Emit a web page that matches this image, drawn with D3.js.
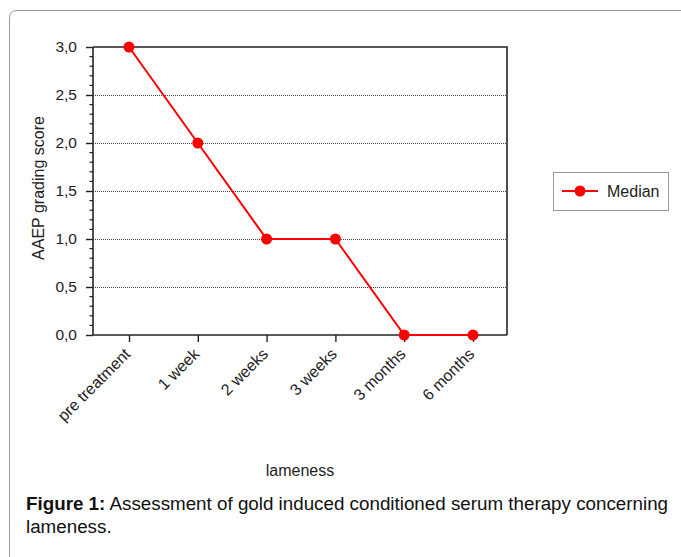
<!DOCTYPE html>
<html><head><meta charset="utf-8">
<script src="https://cdn.jsdelivr.net/npm/d3@7"></script>
<style>body{margin:0;background:#fff}svg{display:block}</style>
</head><body><svg id="c" width="681" height="557"></svg>
<script>
const categories = ["pre treatment","1 week","2 weeks","3 weeks","3 months","6 months"];
const medianValues = [3,2,1,1,0,0];
const yTicks = [0,0.5,1,1.5,2,2.5,3];
const seriesName = "Median";

const svg = d3.select("#c");
const font = "Arial, 'Liberation Sans', sans-serif";
// outer frame
svg.append("path").attr("d","M9.5,560 L9.5,18 Q9.5,10.5 17,10.5 L690,10.5")
  .attr("fill","none").attr("stroke","#9a9a9a").attr("stroke-width",1);

const L=93, R=507, T=47, B=335;
const x = d3.scalePoint().domain(categories).range([L+36, R-34]);
const y = d3.scaleLinear().domain([0,3]).range([B,T]);

// grid
svg.append("g").selectAll("line").data(yTicks.filter(v=>v>0&&v<3)).join("line")
  .attr("x1",L).attr("x2",R).attr("y1",d=>y(d)+0.5).attr("y2",d=>y(d)+0.5)
  .attr("stroke","#444").attr("stroke-width",1).attr("stroke-dasharray","1,1");

// box top/right
svg.append("path").attr("d",`M${L},${T} L${R},${T} L${R},${B}`).attr("fill","none").attr("stroke","#222").attr("stroke-width",1.6);

// y axis
const ya = d3.axisLeft(y).tickValues(yTicks).tickSize(7).tickPadding(9).tickFormat(d=>d3.format(".1f")(d).replace(".",","));
const gy = svg.append("g").attr("transform",`translate(${L},0)`).call(ya);
gy.select(".domain").attr("stroke","#222").attr("stroke-width",1.6).attr("d",`M-0,${B}V${T}`);
gy.selectAll(".tick line").attr("stroke","#222").attr("stroke-width",1.4);
gy.selectAll("text").attr("font-family",font).attr("font-size",15.5).attr("fill","#222");
const minor = d3.range(0,3.0001,0.1).filter(v=>Math.abs(v*2-Math.round(v*2))>1e-6);
gy.append("g").selectAll("line").data(minor).join("line")
  .attr("x1",-3.5).attr("x2",0).attr("y1",d=>y(d)).attr("y2",d=>y(d)).attr("stroke","#222").attr("stroke-width",1.2);

// x axis
const xa = d3.axisBottom(x).tickSize(7).tickPadding(4);
const gx = svg.append("g").attr("transform",`translate(0,${B})`).call(xa);
gx.select(".domain").attr("stroke","#222").attr("stroke-width",1.6).attr("d",`M${L},0H${R}`);
gx.selectAll(".tick line").attr("stroke","#222").attr("stroke-width",1.4);
gx.selectAll("text").attr("font-family",font).attr("font-size",16).attr("fill","#222")
  .attr("text-anchor","end").attr("x",0).attr("y",0).attr("dy","0").attr("transform","translate(2,20) rotate(-45)");

// line
svg.append("path").datum(medianValues).attr("fill","none").attr("stroke","#ff0000").attr("stroke-width",2)
  .attr("d",d3.line().x((d,i)=>x(categories[i])).y(d=>y(d)));
svg.append("g").selectAll("circle").data(medianValues).join("circle")
  .attr("cx",(d,i)=>x(categories[i])).attr("cy",d=>y(d)).attr("r",5.5).attr("fill","#ff0000");

// axis titles
svg.append("text").attr("transform","translate(43.5,188) rotate(-90)").attr("text-anchor","middle")
  .attr("font-family",font).attr("font-size",16).attr("fill","#222").text("AAEP grading score");
svg.append("text").attr("x",300).attr("y",476).attr("text-anchor","middle")
  .attr("font-family",font).attr("font-size",16).attr("fill","#222").text("lameness");

// legend
const lg = svg.append("g");
lg.append("rect").attr("x",553.5).attr("y",172.5).attr("width",115).attr("height",38).attr("fill","#fff").attr("stroke","#999").attr("stroke-width",1);
lg.append("line").attr("x1",562).attr("x2",598).attr("y1",191).attr("y2",191).attr("stroke","#ff0000").attr("stroke-width",2);
lg.append("circle").attr("cx",580).attr("cy",191).attr("r",5.5).attr("fill","#ff0000");
lg.append("text").attr("x",607).attr("y",197).attr("font-family",font).attr("font-size",16).attr("fill","#222").text(seriesName);

// caption
const cap = svg.append("text").attr("x",26).attr("y",510).attr("font-family",font).attr("font-size",18.8).attr("fill","#111");
cap.append("tspan").attr("font-weight","bold").text("Figure 1:");
cap.append("tspan").text(" Assessment of gold induced conditioned serum therapy concerning");
svg.append("text").attr("x",26).attr("y",533).attr("font-family",font).attr("font-size",18.8).attr("fill","#111").text("lameness.");
</script></body></html>
